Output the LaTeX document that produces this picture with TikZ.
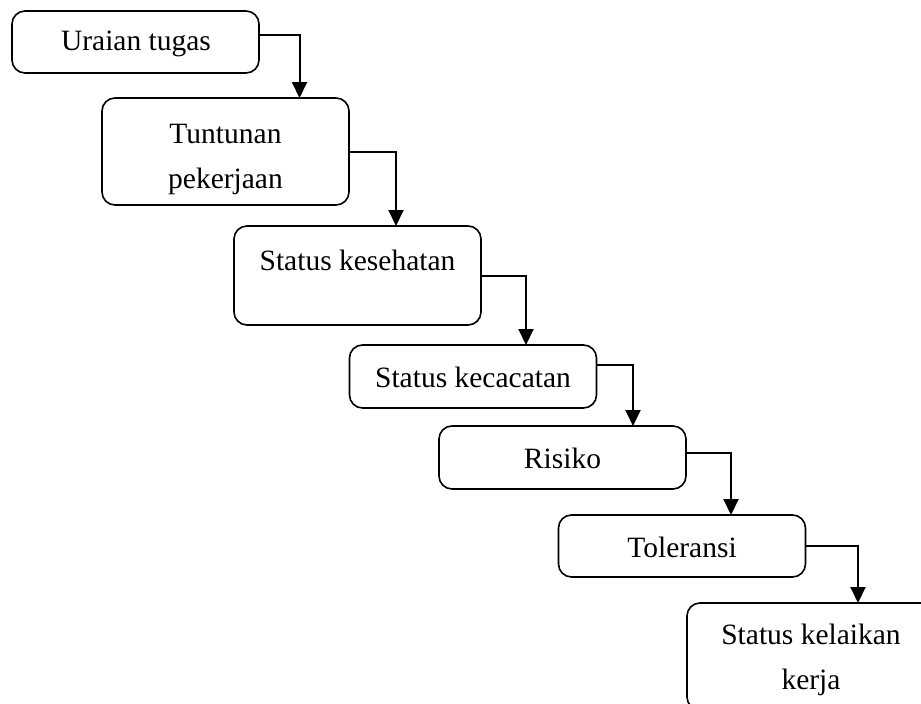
\documentclass[tikz,border=0pt]{standalone}
\usepackage{fontspec}
\setmainfont{Liberation Serif}
\usetikzlibrary{arrows.meta}
\begin{document}
\begin{tikzpicture}[x=1pt,y=-1pt,
  box/.style={draw, line width=1.6pt, rounded corners=13pt, minimum width=247pt, inner sep=0pt, outer sep=0pt},
  txt/.style={inner sep=0pt, align=center, font=\fontsize{29.5}{45}\selectfont},
  arr/.style={line width=2pt, -{Triangle[length=16pt,width=15pt]}}]
\useasboundingbox (0,0) rectangle (921,704);
\clip (0,0) rectangle (921,704);
\node[box, minimum height=62pt] (b1) at (135.5,42) {};
\node[txt] (t1) at (136,44) {Uraian tugas};
\node[box, minimum height=107pt] (b2) at (225.5,151.5) {};
\node[txt] (t2) at (225.5,159) {Tuntunan\\pekerjaan};
\node[box, minimum height=99pt] (b3) at (357.5,275.5) {};
\node[txt] (t3) at (357.5,260) {Status kesehatan};
\node[box, minimum height=63pt] (b4) at (473,376.5) {};
\node[txt] (t4) at (473,377) {Status kecacatan};
\node[box, minimum height=63pt] (b5) at (562.5,457.5) {};
\node[txt] (t5) at (562.5,458) {Risiko};
\node[box, minimum height=62pt] (b6) at (682,546) {};
\node[txt] (t6) at (682,547) {Toleransi};
\node[box, minimum height=107pt, minimum width=248pt] (b7) at (811,656.5) {};
\node[txt] (t7) at (811,660) {Status kelaikan\\kerja};
\draw[arr] ([yshift=7pt]b1.east) -| ([xshift=74pt]b2.north);
\draw[arr] (b2.east) -| ([xshift=38.5pt]b3.north);
\draw[arr] (b3.east) -| ([xshift=53pt]b4.north);
\draw[arr] ([yshift=11.5pt]b4.east) -| ([xshift=70.5pt]b5.north);
\draw[arr] ([yshift=4.5pt]b5.east) -| ([xshift=49pt]b6.north);
\draw[arr] (b6.east) -| ([xshift=47pt]b7.north);
\end{tikzpicture}
\end{document}
